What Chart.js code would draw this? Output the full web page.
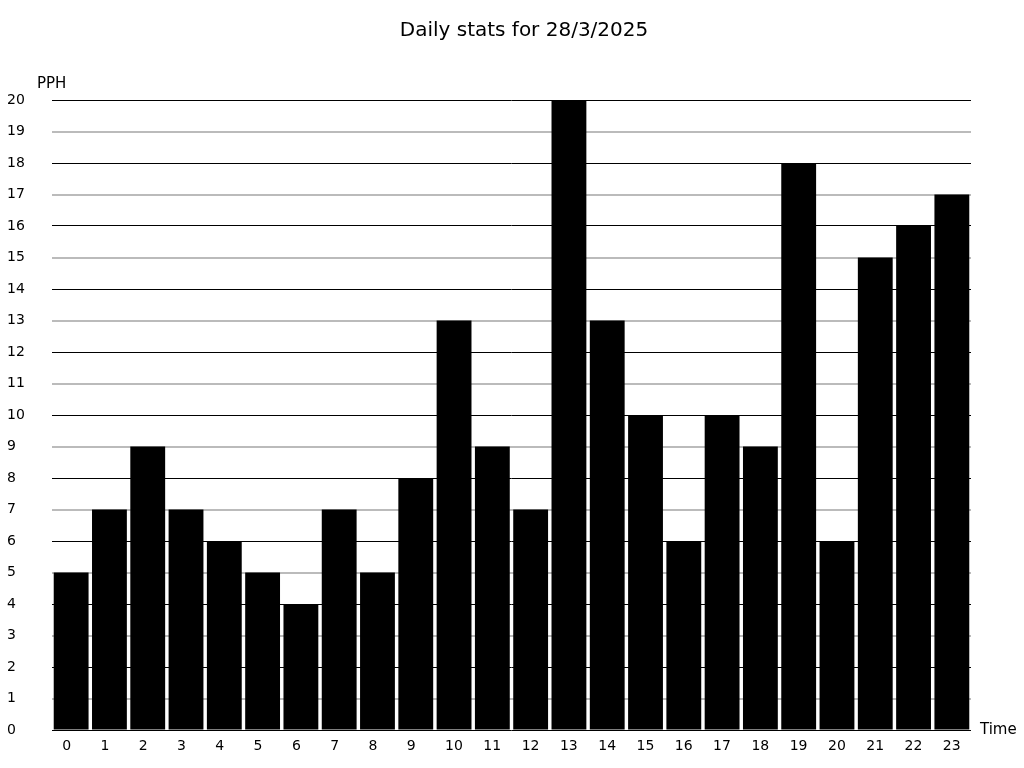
<!DOCTYPE html>
<html>
<head>
<meta charset="utf-8">
<script src="https://cdn.jsdelivr.net/npm/chart.js@4/dist/chart.umd.min.js"></script>
<style>
  body { margin: 0; background: #fff; }
  #wrap { width: 1024px; height: 768px; }
</style>
</head>
<body>
<div id="wrap"><canvas id="chart" width="1024" height="768"></canvas></div>
<script>
const hours = ['0','1','2','3','4','5','6','7','8','9','10','11','12','13','14','15','16','17','18','19','20','21','22','23'];
const pph = [5, 7, 9, 7, 6, 5, 4, 7, 5, 8, 13, 9, 7, 20, 13, 10, 6, 10, 9, 18, 6, 15, 16, 17];
const titleText = 'Daily stats for 28/3/2025';
const yLabel = 'PPH';
const xLabel = 'Time';

const FONT = '"DejaVu Sans", sans-serif';

// title and axis captions drawn by hand, matching the reference placement
const captions = {
    id: 'captions',
    afterDraw(chart) {
        const ctx = chart.ctx;
        const area = chart.chartArea;
        ctx.save();
        ctx.fillStyle = '#000';
        ctx.textBaseline = 'middle';
        ctx.font = '20px ' + FONT;
        ctx.textAlign = 'center';
        ctx.fillText(titleText, 524, 31);
        ctx.font = '15px ' + FONT;
        ctx.textAlign = 'left';
        ctx.fillText(yLabel, 37, area.top - 16);
        ctx.fillText(xLabel, area.right + 9, area.bottom);
        ctx.restore();
    }
};

new Chart(document.getElementById('chart'), {
    type: 'bar',
    data: {
        labels: hours,
        datasets: [{
            data: pph,
            backgroundColor: '#000',
            borderWidth: 0,
            categoryPercentage: 1,
            barPercentage: 0.91
        }]
    },
    options: {
        responsive: false,
        animation: false,
        layout: { padding: { left: 7, right: 53, top: 100, bottom: 0 } },
        plugins: {
            legend: { display: false },
            tooltip: { enabled: false },
            title: { display: false }
        },
        scales: {
            x: {
                grid: { display: false },
                border: { display: false },
                ticks: {
                    color: '#000',
                    font: { family: FONT, size: 14 },
                    maxRotation: 0,
                    padding: 0,
                    align: 'start',
                    labelOffset: -9
                },
                afterFit(scale) { scale.height = 38; }
            },
            y: {
                min: 0,
                max: 20,
                border: { display: false },
                grid: {
                    drawTicks: false,
                    color: (c) => (c.tick && c.tick.value % 2 === 0) ? '#000' : '#bbb',
                    lineWidth: (c) => (c.tick && c.tick.value % 2 === 0) ? 1 : 2
                },
                ticks: {
                    stepSize: 1,
                    color: '#000',
                    font: { family: FONT, size: 14 },
                    crossAlign: 'far',
                    padding: 0
                },
                afterFit(scale) { scale.width = 45; }
            }
        }
    },
    plugins: [captions]
});
</script>
</body>
</html>
